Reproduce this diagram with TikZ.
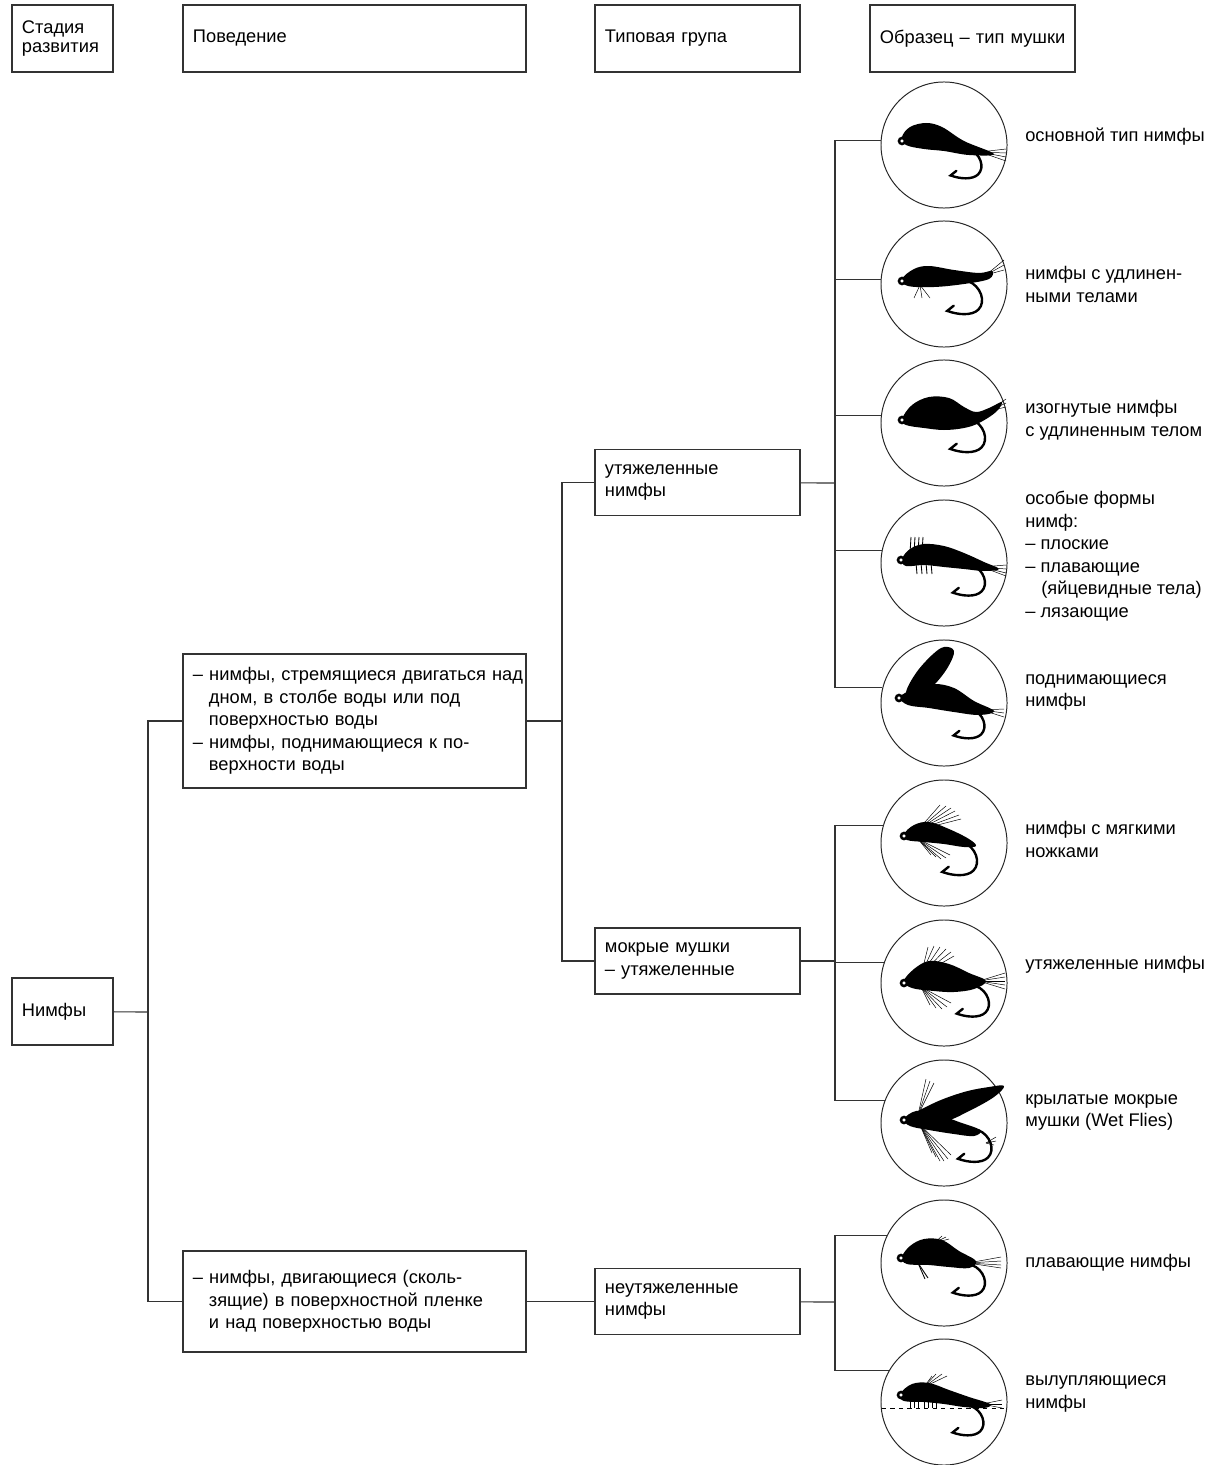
\documentclass[tikz,border=0pt]{standalone}
\usepackage{fontspec}
\setmainfont{Liberation Sans}
\hyphenpenalty=10000
\newcommand{\ind}{\hspace*{0.4cm}}

\begin{document}
\begin{tikzpicture}[
    x=0.025cm, y=-0.025cm,
    box/.style={draw=black!80, line width=1pt, align=left, inner xsep=0.25cm, inner ysep=0pt,
                font=\fontsize{13}{16}\selectfont},
    link/.style={draw=black!80, line width=0.8pt},
    disc/.style={circle, draw=black!85, line width=0.7pt, minimum size=3.15cm, inner sep=0pt},
    lab/.style={anchor=west, align=left, inner sep=0pt, font=\fontsize{13}{16}\selectfont},
    fib/.style={line width=0.35pt},
    hook/.pic={\draw[line width=1.7pt, line cap=round] (0,0) .. controls (10,4) and (14,16) .. (8,22)
                 .. controls (3,27) and (-8,26) .. (-16,23) -- (-11,19);},
    eye/.pic={\draw[line width=1.8pt, fill=white] (0,0) circle (3);},
]
    \useasboundingbox (0,0) rectangle (1223,1465);

    % column heads
    \node[box, text width=2.025cm, minimum height=1.675cm, font=\fontsize{13}{13.5}\selectfont]
        (hstage) at (62.5,38.5) {Стадия\\развития};
    \node[box, text width=8.075cm, minimum height=1.675cm] (hbeh) at (354.5,38.5) {Поведение};
    \node[box, text width=4.625cm, minimum height=1.675cm] (hgroup) at (697.5,38.5) {Типовая група};
    \node[box, text width=4.625cm, minimum height=1.675cm] (hsample) at (972.5,38.5) {\mbox{Образец – тип мушки}};

    % tree
    \node[box, text width=2.025cm, minimum height=1.675cm] (nym) at (62.5,1011.5) {Нимфы};
    \node[box, text width=8.075cm, minimum height=3.35cm] (beh1) at (354.5,721)
        {\mbox{– нимфы, стремящиеся двигаться над}\\\ind дном, в столбе воды или под\\\ind поверхностью воды\\– нимфы, поднимающиеся к по-\\\ind верхности воды};
    \node[box, text width=8.075cm, minimum height=2.525cm] (beh2) at (354.5,1301.5)
        {– нимфы, двигающиеся (сколь-\\\ind зящие) в поверхностной пленке\\\ind и над поверхностью воды};
    \node[box, text width=4.625cm, minimum height=1.65cm] (g1) at (697.5,482.5) {утяжеленные\\нимфы};
    \node[box, text width=4.625cm, minimum height=1.65cm] (g2) at (697.5,961) {мокрые мушки\\– утяжеленные};
    \node[box, text width=4.625cm, minimum height=1.65cm] (g3) at (697.5,1301.5) {неутяжеленные\\нимфы};

    \foreach \i/\y in {1/145,2/284,3/423,4/563,5/703,6/843,7/983,8/1123,9/1263,10/1402}
        \node[disc] (c\i) at (944,\y) {};

    \node[lab] (l1) at (1025,137) {основной тип нимфы};
    \node[lab] (l2) at (1025,284.5) {нимфы с удлинен-\\ными телами};
    \node[lab] (l3) at (1025,420.5) {изогнутые нимфы\\с удлиненным телом};
    \node[lab] (l4) at (1025,556) {особые формы\\нимф:\\– плоские\\– плавающие\\\ind(яйцевидные тела)\\– лязающие};
    \node[lab] (l5) at (1025,692.5) {поднимающиеся\\нимфы};
    \node[lab] (l6) at (1025,839.5) {нимфы с мягкими\\ножками};
    \node[lab] (l7) at (1025,965) {утяжеленные нимфы};
    \node[lab] (l8) at (1025,1112.5) {крылатые мокрые\\мушки (Wet Flies)};
    \node[lab] (l9) at (1025,1263) {плавающие нимфы};
    \node[lab] (l10) at (1025,1394) {вылупляющиеся\\нимфы};

    \coordinate (j0) at (148,1012);
    \coordinate (j1) at (562,721);
    \coordinate (j2) at (835,483);
    \coordinate (j3) at (835,961);
    \coordinate (j4) at (835,1302);

    \draw[link] (nym) -- (j0);
    \draw[link] (beh1.west) -| (j0);
    \draw[link] (beh2.west) -| (j0);
    \draw[link] (beh1) -- (j1);
    \draw[link] (g1.west) -| (j1);
    \draw[link] (g2.west) -| (j1);
    \draw[link] (beh2) -- (g3);
    \draw[link] (g1) -- (j2);
    \draw[link] (g2) -- (j3);
    \draw[link] (g3) -- (j4);
    \foreach \i/\a in {1/176,2/176,3/173,4/169,5/166}
        \draw[link] (c\i.\a) -| (j2);
    \foreach \i/\a in {6/164,7/161,8/159}
        \draw[link] (c\i.\a) -| (j3);
    \foreach \i/\a in {9/154,10/150}
        \draw[link] (c\i.\a) -| (j4);

    % flies
    \begin{scope}[shift={(c1.center)}]
        \fill plot[smooth cycle, tension=0.6] coordinates {(-42,-8) (-34,-18) (-18,-22) (-2,-18) (20,-4) (50,9) (25,10) (0,6) (-20,4) (-38,0)};
        \foreach \y in {4,8,12,16} \draw[fib] (36,7) -- (62,\y);
        \pic[scale=1.15] at (25,4) {hook};
        \pic at (-42,-4) {eye};
    \end{scope}
    \begin{scope}[shift={(c2.center)}]
        \fill plot[smooth cycle, tension=0.6] coordinates {(-42,-5) (-30,-15) (-15,-18) (10,-14) (35,-11) (48,-13) (45,-5) (20,0) (-10,3) (-36,2)};
        \foreach \y in {-24,-19,-14} \draw[fib] (42,-9) -- (60,\y);
        \foreach \x in {-30,-22,-14} \draw[fib] (-24,1) -- (\x,14);
        \pic[scale=1.3] at (24,-3) {hook};
        \pic at (-42,-3) {eye};
    \end{scope}
    \begin{scope}[shift={(c3.center)}]
        \fill plot[smooth cycle, tension=0.6] coordinates {(-42,-4) (-32,-18) (-15,-26) (5,-25) (20,-16) (32,-11) (45,-15) (58,-21) (52,-11) (35,0) (20,5) (0,7) (-20,5) (-38,2)};
        \foreach \y in {-24,-20,-16} \draw[fib] (45,-12) -- (62,\y);
        \pic[scale=1.3] at (27,-4) {hook};
        \pic at (-42,-3) {eye};
    \end{scope}
    \begin{scope}[shift={(c4.center)}]
        \fill plot[smooth cycle, tension=0.6] coordinates {(-42,-4) (-34,-14) (-20,-19) (0,-17) (20,-10) (40,-1) (55,6) (40,8) (20,6) (0,4) (-20,2) (-38,3)};
        \foreach \x in {-34,-30,-26,-22} \draw[fib, line width=0.6pt] (\x,-10) -- (\x+1,-26);
        \foreach \x in {-28,-23,-18,-13} \draw[fib, line width=0.6pt] (\x,0) -- (\x+1,11);
        \foreach \y in {2,6,10,13} \draw[fib] (38,4) -- (62,\y);
        \pic[scale=1.2] at (28,2) {hook};
        \pic at (-43,-3) {eye};
    \end{scope}
    \begin{scope}[shift={(c5.center)}]
        \fill plot[smooth cycle, tension=0.6] coordinates {(-38,-10) (-28,-30) (-12,-48) (0,-56) (10,-52) (4,-36) (-10,-18) (-28,-4)};
        \fill plot[smooth cycle, tension=0.6] coordinates {(-44,-6) (-30,-14) (-10,-19) (10,-15) (30,-2) (50,8) (35,12) (10,9) (-15,5) (-36,2)};
        \foreach \y in {6,10,14} \draw[fib] (38,7) -- (60,\y);
        \pic[scale=1.15] at (28,6) {hook};
        \pic at (-45,-5) {eye};
    \end{scope}
    \begin{scope}[shift={(c6.center)}]
        \fill plot[smooth cycle, tension=0.6] coordinates {(-40,-9) (-30,-18) (-15,-21) (5,-14) (25,-4) (32,3) (20,4) (0,1) (-20,-1) (-37,-3)};
        \foreach \p in {(-4,-38),(2,-37),(7,-35),(11,-32),(15,-28),(17,-24)} \draw[fib] (-26,-13) -- \p;
        \foreach \p in {(-13,12),(-8,14),(-3,16),(2,15),(6,12)} \draw[fib] (-26,-4) -- \p;
        \pic[scale=1.3] at (19,-1) {hook};
        \pic at (-40,-7) {eye};
    \end{scope}
    \begin{scope}[shift={(c7.center)}]
        \fill plot[smooth cycle, tension=0.6] coordinates {(-40,-2) (-30,-14) (-15,-22) (5,-19) (25,-10) (42,-2) (30,6) (10,9) (-10,8) (-32,5)};
        \foreach \p in {(-16,-36),(-10,-37),(-4,-36),(2,-34),(7,-31),(10,-27)} \draw[fib] (-23,-8) -- \p;
        \foreach \p in {(-14,22),(-8,25),(-2,26),(3,24),(7,20)} \draw[fib] (-23,4) -- \p;
        \foreach \y in {-10,-6,-2,2,6} \draw[fib] (35,-2) -- (61,\y);
        \pic[scale=1.2] at (32,3) {hook};
        \pic at (-40,0) {eye};
    \end{scope}
    \begin{scope}[shift={(c8.center)}]
        \fill plot[smooth cycle, tension=0.6] coordinates {(-32,-6) (-10,-20) (20,-31) (45,-36) (60,-37) (50,-26) (25,-12) (0,-2)};
        \fill plot[smooth cycle, tension=0.6] coordinates {(-40,-4) (-28,-12) (-10,-10) (15,-1) (36,7) (30,13) (10,11) (-15,7) (-34,3)};
        \foreach \p in {(-18,-44),(-14,-42),(-10,-40)} \draw[fib] (-26,-8) -- \p;
        \foreach \p in {(-12,30),(-8,34),(-4,38),(0,38),(4,36),(7,32)} \draw[fib] (-24,2) -- \p;
        \foreach \p in {(52,14),(52,18),(50,22)} \draw[fib] (42,20) -- \p;
        \pic[scale=1.25] at (34,7) {hook};
        \pic at (-40,-3) {eye};
    \end{scope}
    \begin{scope}[shift={(c9.center)}]
        \fill plot[smooth cycle, tension=0.6] coordinates {(-42,-6) (-34,-17) (-20,-24) (-2,-23) (15,-12) (32,-2) (25,5) (5,4) (-15,2) (-37,1)};
        \foreach \p in {(2,-26),(5,-24),(-2,-27)} \draw[fib] (-10,-20) -- \p;
        \foreach \p in {(-16,15),(-19,16)} \draw[fib, line width=0.6pt] (-26,0) -- \p;
        \foreach \y in {-6,-2,2,5} \draw[fib] (24,0) -- (57,\y);
        \pic[scale=1.2] at (28,2) {hook};
        \pic at (-43,-5) {eye};
    \end{scope}
    \begin{scope}[shift={(c10.center)}]
        \draw[dashed, line width=0.5pt] (-62,6) -- (62,6);
        \fill plot[smooth cycle, tension=0.6] coordinates {(-44,-8) (-32,-18) (-15,-19) (5,-12) (25,-5) (46,2) (40,6) (20,5) (0,2) (-20,0) (-40,-1)};
        \foreach \p in {(-8,-28),(-2,-28),(3,-26),(-12,-26)} \draw[fib] (-20,-15) -- \p;
        \foreach \x in {-34,-30,-26,-20,-16,-12,-8} \draw[fib, line width=0.6pt] (\x,-2) -- (\x,6);
        \foreach \y in {-2,2,6} \draw[fib] (38,2) -- (58,\y);
        \pic[scale=1.15] at (27,4) {hook};
        \pic at (-43,-7) {eye};
    \end{scope}
\end{tikzpicture}
\end{document}
